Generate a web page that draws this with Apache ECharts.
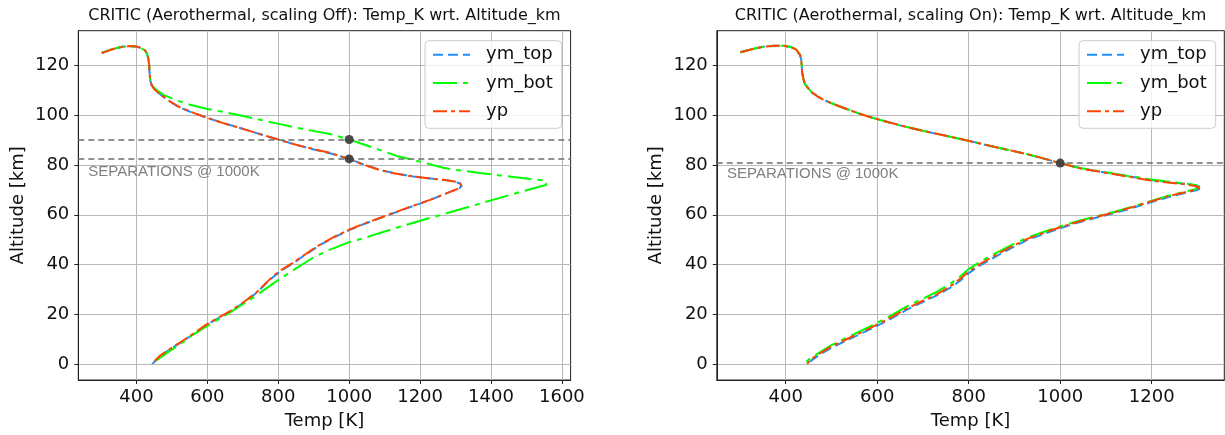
<!DOCTYPE html>
<html>
<head>
<meta charset="utf-8">
<script src="https://cdn.jsdelivr.net/npm/echarts@6/dist/echarts.min.js"></script>
<style>
html,body{margin:0;padding:0;background:#fff;}
#chart{width:1225px;height:435px;}
</style>
</head>
<body>
<div id="chart"></div>
<script>
// ---------- data (Temp [K], Altitude [km]) ----------
const titleOff = 'CRITIC (Aerothermal, scaling Off): Temp_K wrt. Altitude_km';
const titleOn = 'CRITIC (Aerothermal, scaling On): Temp_K wrt. Altitude_km';
const seriesNames = ['ym_top', 'ym_bot', 'yp'];
const tempTicksOff = [400, 600, 800, 1000, 1200, 1400, 1600];
const tempTicksOn = [400, 600, 800, 1000, 1200];
const altTicks = [0, 20, 40, 60, 80, 100, 120];
const sepTemp = 1000;
const sepAltOff = [90.3, 82.5];
const sepAltOn = [80.8];
const sepText = 'SEPARATIONS @ 1000K';

const ypOff = [[302,125.1],[325,126.3],[344,127.1],[365,127.7],[382,127.9],[400,127.7],[412,127.2],[424,126.2],[430,124.8],[434,122.5],[436,120],[437,117],[439,114],[443,112.2],[452,110.2],[470,108.2],[495,105.6],[520,103.4],[551,101.6],[600,99.0],[645,96.9],[700,94.6],[750,92.4],[800,90.3],[850,88.2],[900,86.4],[946,84.9],[1000,82.5],[1040,80.2],[1087,78.0],[1130,76.6],[1181,75.4],[1230,74.6],[1275,73.9],[1300,73.3],[1313,72.6],[1317,71.6],[1310,70.6],[1295,69.8],[1260,67.8],[1228,66.0],[1200,64.6],[1160,62.6],[1120,60.5],[1080,58.4],[1040,56.3],[1000,54.0],[960,51.3],[926,48.7],[897,46.1],[869,43.4],[842,40.7],[813,38.2],[790,35.8],[770,33.2],[739,28.8],[700,24.6],[664,21.2],[630,18.5],[598,15.9],[560,12.1],[523,8.6],[490,5.6],[465,3.1],[443,0]];
const ymTopOff = [[302,125.1],[325,126.3],[344,127.1],[365,127.7],[382,127.9],[400,127.7],[412,127.2],[424,126.2],[430,124.8],[434,122.5],[436,120],[437,117],[439,114],[443,112.2],[452,110.2],[470,108.1],[495,105.5],[520,103.3],[551,101.5],[600,99.0],[645,96.9],[700,94.6],[750,92.4],[800,90.3],[850,88.2],[900,86.3],[946,84.8],[1000,82.5],[1040,80.3],[1087,78.1],[1130,76.7],[1181,75.4],[1230,74.6],[1275,73.9],[1300,73.3],[1313,72.6],[1317,71.6],[1310,70.6],[1295,69.8],[1260,67.8],[1228,66.0],[1200,64.5],[1160,62.5],[1120,60.4],[1080,58.3],[1040,56.2],[1000,53.8],[960,51.1],[926,48.5],[897,45.9],[869,43.2],[842,40.5],[813,37.9],[790,35.5],[770,33.0],[739,28.6],[700,24.4],[664,21.0],[630,18.3],[598,15.7],[560,11.9],[523,8.4],[490,5.4],[465,2.9],[445,0]];
const ymBotOff = [[302,125.1],[325,126.3],[344,127.1],[365,127.7],[382,127.9],[400,127.7],[412,127.2],[424,126.2],[430,124.8],[434,122.5],[436,120],[437,117],[439,114],[443,112.4],[450,111.0],[463,109.6],[476,108.3],[510,106.2],[551,104.3],[600,102.6],[664,100.9],[730,98.8],[805,96.5],[870,94.5],[946,92.5],[1000,90.3],[1060,87.4],[1134,83.7],[1200,81.4],[1240,79.9],[1265,78.9],[1300,78.1],[1369,76.8],[1440,75.6],[1510,74.4],[1545,73.9],[1557,73.5],[1562,72.8],[1555,72.0],[1538,71.4],[1480,69.1],[1400,65.8],[1340,63.3],[1275,60.6],[1200,57.6],[1134,54.8],[1080,52.4],[1040,50.5],[1000,49.0],[946,46.0],[899,42.8],[850,38.4],[805,34.2],[770,30.8],[739,27.6],[700,24.0],[664,20.7],[600,15.3],[560,11.8],[523,7.9],[490,4.8],[462,2.0],[443,0]];

const ypOn = [[301,125.4],[330,126.8],[350,127.6],[375,128.0],[396,128.0],[412,127.5],[423,126.5],[431,124.5],[434,122.5],[435,120],[436,117.3],[439,114.5],[442,112.6],[450,110.8],[457,109.3],[470,107.6],[487,105.9],[510,104.2],[533,102.6],[560,100.8],[594,98.8],[650,96.0],[700,93.8],[750,91.8],[799,89.8],[860,87.2],[928,84.4],[965,82.6],[1000,80.8],[1043,78.7],[1080,77.5],[1119,76.3],[1160,75.0],[1195,73.9],[1230,73.1],[1271,72.3],[1295,71.6],[1305,71.0],[1295,70.0],[1271,69.0],[1235,67.4],[1195,65.2],[1160,63.2],[1119,61.0],[1080,59.2],[1043,57.4],[1000,55.0],[965,52.8],[928,50.3],[890,46.9],[855,43.4],[825,40.2],[799,37.0],[780,34.0],[761,31.4],[730,28.0],[700,25.4],[660,21.8],[624,18.0],[580,14.0],[533,9.9],[500,7.0],[472,3.9],[455,1.8],[447,0]];
const ymTopOn = [[301,125.4],[330,126.8],[350,127.6],[375,128.0],[396,128.0],[412,127.5],[423,126.5],[431,124.5],[434,122.5],[435,120],[436,117.3],[439,114.5],[442,112.6],[450,110.8],[457,109.3],[470,107.6],[487,105.9],[510,104.2],[533,102.6],[560,100.8],[594,98.8],[650,96.0],[700,93.8],[750,91.8],[799,89.8],[860,87.2],[928,84.4],[965,82.6],[1000,80.8],[1043,78.8],[1080,77.6],[1119,76.4],[1160,75.2],[1195,74.1],[1230,73.3],[1271,72.5],[1298,71.8],[1310,71.0],[1300,70.0],[1275,68.9],[1238,67.2],[1198,65.0],[1162,63.0],[1121,60.8],[1082,59.0],[1045,57.2],[1002,54.7],[967,52.5],[930,50.0],[892,46.5],[857,43.0],[827,39.8],[801,36.6],[782,33.6],[763,31.0],[732,27.7],[702,25.1],[662,21.5],[626,17.7],[582,13.7],[535,9.6],[502,6.7],[474,3.6],[457,1.5],[450,0]];
const ymBotOn = [[301,125.4],[330,126.8],[350,127.6],[375,128.0],[396,128.0],[412,127.5],[423,126.5],[431,124.5],[434,122.5],[435,120],[436,117.3],[439,114.5],[442,112.6],[450,110.8],[457,109.3],[470,107.6],[487,105.9],[510,104.2],[533,102.6],[560,100.8],[594,98.8],[650,96.0],[700,93.8],[750,91.8],[799,89.8],[860,87.2],[928,84.4],[965,82.6],[1000,80.8],[1043,78.8],[1080,77.7],[1119,76.5],[1160,75.3],[1195,74.3],[1230,73.5],[1271,72.7],[1295,72.0],[1302,71.4],[1295,70.3],[1271,69.2],[1235,67.6],[1195,65.4],[1160,63.4],[1119,61.2],[1080,59.4],[1043,57.7],[1000,55.3],[965,53.2],[928,50.8],[890,47.5],[855,44.2],[825,41.1],[799,38.0],[780,35.0],[761,32.4],[730,29.0],[700,26.3],[660,22.6],[624,18.8],[580,14.7],[533,10.5],[500,7.5],[472,4.3],[452,1.9],[440,0]];

// ---------- styling ----------
const FONT = 'DejaVu Sans';
const colors = {ym_top: '#1E90FF', ym_bot: '#00FF00', yp: '#FF4500'};
const dashes = {ym_top: [10, 5], ym_bot: [24, 6, 5, 6], yp: [14, 4, 4, 4]};
const dataOff = {ym_top: ymTopOff, ym_bot: ymBotOff, yp: ypOff};
const dataOn = {ym_top: ymTopOn, ym_bot: ymBotOn, yp: ypOn};

const grids = [
  {left: 78.3, top: 30.7, width: 492.3, height: 350},
  {left: 716.8, top: 30.7, width: 507.5, height: 350}
];
const xRanges = [[236, 1624.5], [249.4, 1358.7]];
const yRange = [-6.5, 134.1];

function xAxis(i, ticks) {
  return {
    type: 'value', gridIndex: i, min: xRanges[i][0], max: xRanges[i][1],
    name: 'Temp [K]', nameLocation: 'middle', nameGap: 32,
    nameTextStyle: {fontFamily: FONT, fontSize: 18, color: '#111'},
    axisLine: {show: true, onZero: false, lineStyle: {color: '#222', width: 1}},
    axisTick: {show: true, inside: false, length: 4, customValues: ticks, lineStyle: {color: '#222'}},
    axisLabel: {fontFamily: FONT, fontSize: 18, color: '#111', margin: 8, customValues: ticks,
                formatter: v => String(Math.round(v))},
    splitLine: {show: true, lineStyle: {color: '#b8b8b8', width: 1}}
  };
}
function yAxis(i) {
  return {
    type: 'value', gridIndex: i, min: yRange[0], max: yRange[1],
    name: 'Altitude [km]', nameLocation: 'middle', nameGap: 51,
    nameTextStyle: {fontFamily: FONT, fontSize: 18, color: '#111'},
    axisLine: {show: true, onZero: false, lineStyle: {color: '#222', width: 1}},
    axisTick: {show: true, inside: false, length: 4, customValues: altTicks, lineStyle: {color: '#222'}},
    axisLabel: {fontFamily: FONT, fontSize: 18, color: '#111', margin: 9, customValues: altTicks,
                formatter: v => String(Math.round(v))},
    splitLine: {show: true, lineStyle: {color: '#b8b8b8', width: 1}}
  };
}

const series = [];
[dataOff, dataOn].forEach((d, i) => {
  seriesNames.forEach(name => {
    series.push({
      name: name, type: 'line', xAxisIndex: i, yAxisIndex: i,
      data: d[name], symbol: 'none', showSymbol: false, smooth: false,
      lineStyle: {color: colors[name], width: 2, type: dashes[name]},
      itemStyle: {color: colors[name]},
      z: 3, silent: true
    });
  });
});
[sepAltOff, sepAltOn].forEach((alts, i) => {
  series.push({
    type: 'scatter', xAxisIndex: i, yAxisIndex: i, silent: true,
    data: alts.map(a => [sepTemp, a]), symbolSize: 9,
    itemStyle: {color: '#404040', opacity: 0.95}, z: 5,
    markLine: {
      silent: true, symbol: 'none', label: {show: false},
      lineStyle: {color: '#6e6e6e', width: 1.5, type: [6, 4]},
      data: alts.map(a => ({yAxis: a}))
    }
  });
});

function legend(left) {
  return {
    data: seriesNames, orient: 'vertical', left: left, top: 40.7,
    padding: [5, 9, 8, 7], itemGap: 10.3, itemWidth: 37, itemHeight: 18,
    backgroundColor: 'rgba(255,255,255,0.8)', borderColor: '#cccccc', borderWidth: 1, borderRadius: 4,
    textStyle: {fontFamily: FONT, fontSize: 18, color: '#111', padding: [0, 0, 0, 11]},
    itemStyle: {opacity: 0},
    selectedMode: false
  };
}

const option = {
  animation: false,
  backgroundColor: '#fff',
  title: [
    {text: titleOff, left: 324.5, top: 8, padding: 0, textAlign: 'center',
     textStyle: {fontFamily: FONT, fontSize: 16, fontWeight: 'normal', color: '#111'}},
    {text: titleOn, left: 970.5, top: 8, padding: 0, textAlign: 'center',
     textStyle: {fontFamily: FONT, fontSize: 16, fontWeight: 'normal', color: '#111'}}
  ],
  legend: [legend(425), legend(1079)],
  grid: grids.map(g => Object.assign({show: true, borderColor: '#222', borderWidth: 1, backgroundColor: 'transparent'}, g)),
  xAxis: [xAxis(0, tempTicksOff), xAxis(1, tempTicksOn)],
  yAxis: [yAxis(0), yAxis(1)],
  graphic: [
    {type: 'text', left: 88.3, top: 164, style: {text: sepText, fontFamily: 'Liberation Sans', fontSize: 15, fill: '#808080'}, z: 10},
    {type: 'text', left: 727, top: 166, style: {text: sepText, fontFamily: 'Liberation Sans', fontSize: 15, fill: '#808080'}, z: 10}
  ],
  series: series
};

const chart = echarts.init(document.getElementById('chart'), null, {renderer: 'canvas'});
chart.setOption(option);
</script>
</body>
</html>
